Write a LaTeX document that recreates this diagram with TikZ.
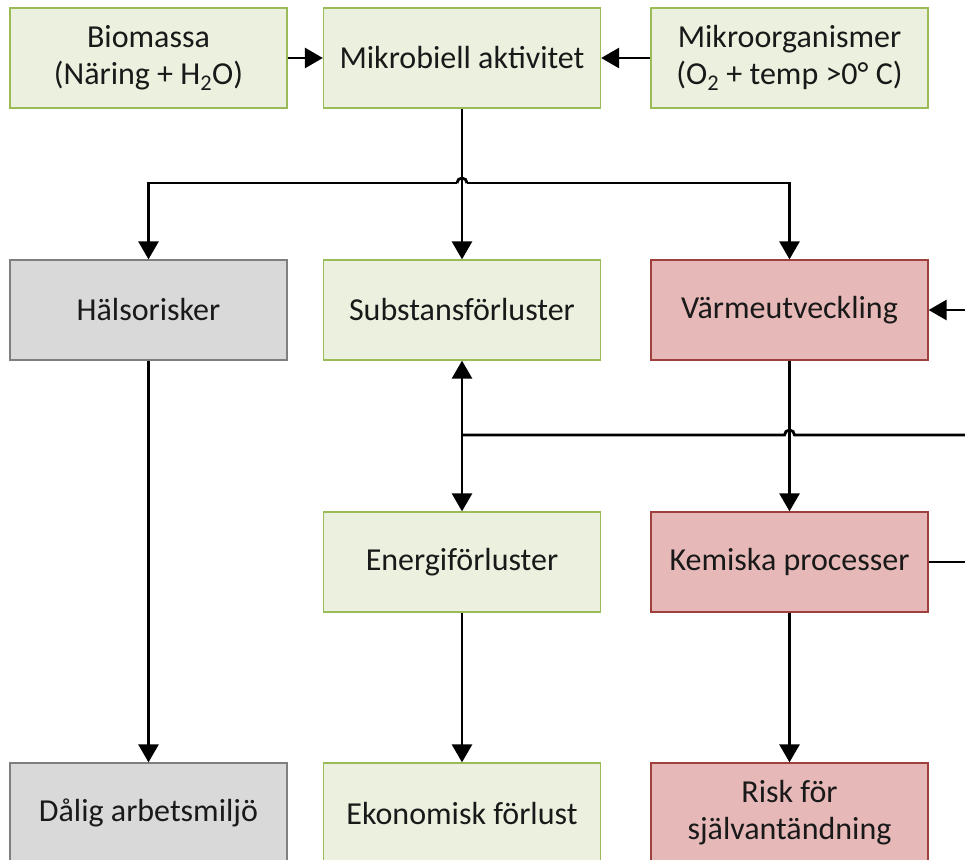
\documentclass[tikz,border=0pt]{standalone}
\usepackage{fontspec}
\setmainfont{Carlito}
\usetikzlibrary{arrows.meta,calc}
\definecolor{gfill}{HTML}{EBF1DE}
\definecolor{gline}{HTML}{9BBB59}
\definecolor{rfill}{HTML}{E6B9B8}
\definecolor{rline}{HTML}{A0403E}
\definecolor{kfill}{HTML}{D9D9D9}
\definecolor{kline}{HTML}{7F7F7F}
\tikzset{
  box/.style={rectangle, minimum width=277pt, minimum height=100pt, inner sep=0pt,
    align=center, line width=1.3pt, font=\fontsize{32}{37}\selectfont, text=black!90},
  gbox/.style={box, fill=gfill, draw=gline},
  rbox/.style={box, fill=rfill, draw=rline},
  kbox/.style={box, fill=kfill, draw=kline},
  conn/.style={line width=2.8pt, draw=black},
  arr/.style={conn, -{Triangle[length=18pt,width=20pt]}},
  darr/.style={conn, {Triangle[length=18pt,width=20pt]}-{Triangle[length=18pt,width=20pt]}},
}
\begin{document}
\begin{tikzpicture}[x=1pt,y=-1pt]
\useasboundingbox (0,0) rectangle (965,859);
\clip (0,0) rectangle (965,859);
% row 1
\node[gbox] (bio) at (148.5,58) {Biomassa\\(Näring + H\textsubscript{2}O)};
\node[gbox] (mik) at (462,58) {Mikrobiell aktivitet};
\node[gbox] (org) at (789.5,58) {Mikroorganismer\\(O\textsubscript{2} + temp >0° C)};
% row 2
\node[kbox] (hal) at (148.5,310) {Hälsorisker};
\node[gbox] (sub) at (462,310) {Substansförluster};
\node[rbox] (var) at (789.5,310) {Värmeutveckling};
% row 3
\node[gbox] (ene) at (462,562) {Energiförluster};
\node[rbox] (kem) at (789.5,562) {Kemiska processer};
% row 4
\node[kbox] (dal) at (148.5,813) {Dålig arbetsmiljö};
\node[gbox] (eko) at (462,813) {Ekonomisk förlust};
\node[rbox] (ris) at (789.5,813) {Risk för\\självantändning};

% coordinates
\coordinate (j1) at (mik.south |- 0,183);
\coordinate (j2) at (sub.south |- 0,435);
\coordinate (h2) at (var.south |- 0,435);
\coordinate (rt) at (990,435);

% top row arrows
\draw[arr] (bio.east) -- (mik.west);
\draw[arr] (org.west) -- (mik.east);

% distribution from Mikrobiell aktivitet
\draw[arr] (mik.south) -- (sub.north);
\draw[conn] ($(j1)+(-5,0)$) arc[start angle=180,end angle=0,radius=5pt];
\draw[arr] ($(j1)+(-5,0)$) -| (hal.north);
\draw[arr] ($(j1)+(5,0)$) -| (var.north);

% Substans <-> Energi
\draw[darr] (sub.south) -- (ene.north);
\draw[conn] (j2) -- ($(h2)+(-5,0)$) arc[start angle=180,end angle=0,radius=5pt] -- (rt);

% feedback loop
\draw[arr] (kem.east) -- (990,562) -- (990,310) -- (var.east);

% vertical flows
\draw[arr] (var.south) -- (kem.north);
\draw[arr] (hal.south) -- (dal.north);
\draw[arr] (ene.south) -- (eko.north);
\draw[arr] (kem.south) -- (ris.north);
\end{tikzpicture}
\end{document}
